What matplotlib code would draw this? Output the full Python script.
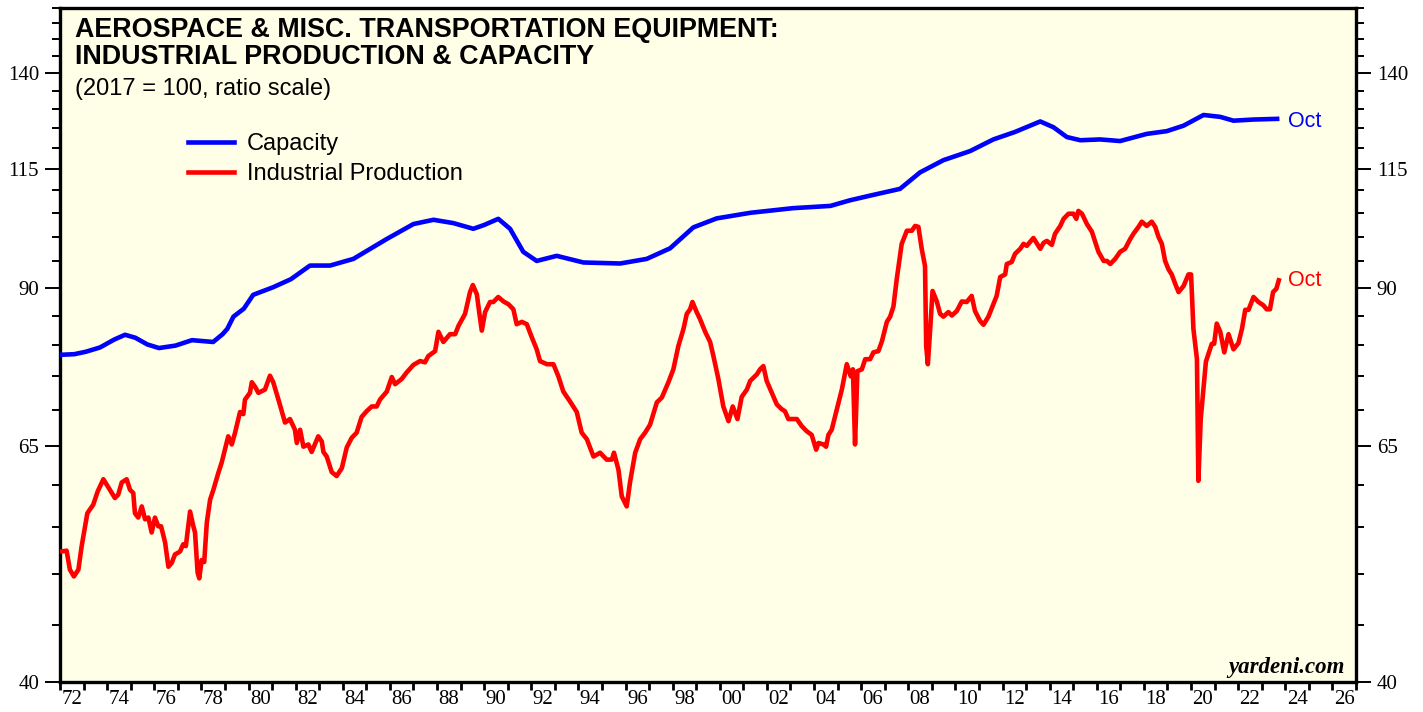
import matplotlib
matplotlib.use("Agg")
import matplotlib.pyplot as plt
from matplotlib.lines import Line2D
from matplotlib.ticker import FixedLocator, FixedFormatter, NullFormatter

# ---------------- data ----------------
cap_years = [1972.0, 1972.6, 1973.1, 1973.7, 1974.3, 1974.76, 1975.2, 1975.7, 1976.2, 1976.9,
             1977.6, 1978.5, 1978.9, 1979.1, 1979.36, 1979.8, 1980.2, 1981.05, 1981.8, 1982.61,
             1983.46, 1984.45, 1985.87, 1987.0, 1987.85, 1988.69, 1989.54, 1990.0, 1990.6, 1991.1,
             1991.66, 1992.23, 1993.08, 1994.21, 1995.77, 1996.9, 1997.89, 1998.88, 1999.87, 2001.3,
             2003.1, 2004.7, 2005.5, 2006.4, 2007.65, 2008.5, 2009.49, 2010.62, 2011.61, 2012.53,
             2013.6, 2014.16, 2014.73, 2015.3, 2016.14, 2016.99, 2018.12, 2018.97, 2019.68, 2020.53,
             2021.24, 2021.8, 2022.65, 2023.75]
cap_values = [78.4, 78.5, 78.9, 79.6, 80.9, 81.7, 81.2, 80.1, 79.5, 79.9,
              80.8, 80.5, 81.8, 82.7, 84.8, 86.2, 88.7, 90.1, 91.6, 94.2,
              94.2, 95.5, 99.5, 102.6, 103.5, 102.8, 101.6, 102.4, 103.7, 101.6,
              96.9, 95.1, 96.1, 94.8, 94.6, 95.5, 97.6, 101.9, 103.8, 105.0,
              106.0, 106.5, 107.7, 108.8, 110.3, 114.1, 117.0, 119.2, 122.1, 124.0,
              126.7, 125.2, 122.7, 121.9, 122.1, 121.7, 123.5, 124.2, 125.6, 128.4,
              127.9, 126.9, 127.2, 127.4]

ip_years = [1972.0, 1972.28, 1972.42, 1972.59, 1972.78, 1972.92, 1973.16, 1973.41, 1973.6, 1973.84,
            1974.05, 1974.33, 1974.47, 1974.62, 1974.83, 1974.97, 1975.11, 1975.18, 1975.32, 1975.47,
            1975.61, 1975.75, 1975.89, 1976.03, 1976.17, 1976.29, 1976.46, 1976.6, 1976.74, 1976.88,
            1977.09, 1977.23, 1977.34, 1977.52, 1977.66, 1977.73, 1977.84, 1977.91, 1978.01, 1978.12,
            1978.23, 1978.37, 1978.51, 1978.72, 1978.86, 1979.14, 1979.29, 1979.43, 1979.64, 1979.78,
            1979.85, 1980.06, 1980.14, 1980.28, 1980.42, 1980.7, 1980.91, 1981.05, 1981.27, 1981.55,
            1981.76, 1981.97, 1982.05, 1982.19, 1982.33, 1982.54, 1982.68, 1982.96, 1983.11, 1983.18,
            1983.32, 1983.53, 1983.74, 1983.96, 1984.17, 1984.38, 1984.59, 1984.8, 1985.01, 1985.23,
            1985.44, 1985.58, 1985.87, 1986.08, 1986.22, 1986.5, 1986.71, 1987.0, 1987.28, 1987.49,
            1987.63, 1987.92, 1988.06, 1988.27, 1988.55, 1988.77, 1988.91, 1989.19, 1989.4, 1989.52,
            1989.69, 1989.8, 1989.9, 1990.04, 1990.25, 1990.39, 1990.6, 1990.82, 1991.03, 1991.24,
            1991.38, 1991.6, 1991.81, 1992.02, 1992.23, 1992.37, 1992.66, 1992.94, 1993.15, 1993.36,
            1993.65, 1993.93, 1994.14, 1994.36, 1994.64, 1994.92, 1995.2, 1995.42, 1995.51, 1995.7,
            1995.84, 1996.05, 1996.19, 1996.41, 1996.62, 1996.83, 1997.04, 1997.33, 1997.54, 1997.82,
            1998.03, 1998.24, 1998.46, 1998.6, 1998.74, 1998.84, 1999.02, 1999.16, 1999.38, 1999.59,
            1999.73, 1999.94, 2000.15, 2000.37, 2000.55, 2000.75, 2000.93, 2001.15, 2001.29, 2001.57,
            2001.71, 2001.85, 2001.99, 2002.21, 2002.42, 2002.63, 2002.77, 2002.91, 2003.27, 2003.48,
            2003.69, 2003.9, 2004.09, 2004.19, 2004.4, 2004.51, 2004.61, 2004.75, 2004.97, 2005.18,
            2005.39, 2005.56, 2005.65, 2005.74, 2005.84, 2006.03, 2006.17, 2006.38, 2006.52, 2006.73,
            2006.88, 2007.09, 2007.23, 2007.37, 2007.51, 2007.72, 2007.94, 2008.15, 2008.29, 2008.43,
            2008.57, 2008.71, 2008.76, 2008.83, 2008.93, 2009.03, 2009.21, 2009.35, 2009.49, 2009.7,
            2009.85, 2010.06, 2010.27, 2010.48, 2010.69, 2010.83, 2011.04, 2011.19, 2011.4, 2011.61,
            2011.75, 2011.9, 2012.11, 2012.18, 2012.39, 2012.53, 2012.75, 2012.89, 2013.03, 2013.31,
            2013.6, 2013.74, 2013.88, 2014.09, 2014.23, 2014.45, 2014.59, 2014.8, 2015.01, 2015.13,
            2015.22, 2015.37, 2015.58, 2015.79, 2015.93, 2016.07, 2016.29, 2016.43, 2016.57, 2016.78,
            2016.99, 2017.2, 2017.42, 2017.56, 2017.77, 2017.91, 2018.12, 2018.33, 2018.48, 2018.62,
            2018.76, 2018.9, 2019.04, 2019.18, 2019.33, 2019.47, 2019.68, 2019.89, 2020.0, 2020.1,
            2020.25, 2020.31, 2020.41, 2020.63, 2020.88, 2020.98, 2021.09, 2021.24, 2021.41, 2021.59,
            2021.8, 2022.01, 2022.16, 2022.3, 2022.44, 2022.65, 2022.86, 2023.07, 2023.21, 2023.35,
            2023.48, 2023.62, 2023.75]
ip_values = [52.3, 52.4, 50.4, 49.7, 50.4, 52.9, 56.6, 57.6, 59.2, 60.7,
             59.7, 58.4, 58.8, 60.3, 60.7, 59.4, 59.0, 56.6, 56.1, 57.4,
             55.9, 56.1, 54.4, 56.1, 55.1, 55.1, 53.3, 50.7, 51.1, 52.0,
             52.3, 53.1, 52.9, 56.8, 55.1, 54.4, 50.1, 49.5, 51.4, 51.2,
             55.5, 58.2, 59.4, 61.5, 62.8, 66.3, 65.2, 66.8, 69.7, 69.4,
             71.5, 72.5, 74.1, 73.4, 72.5, 73.0, 75.1, 74.1, 71.5, 68.2,
             68.7, 67.2, 65.4, 67.2, 64.9, 65.2, 64.2, 66.3, 65.6, 64.2,
             63.6, 61.6, 61.1, 62.1, 64.8, 66.1, 66.8, 69.0, 69.8, 70.5,
             70.5, 71.5, 72.7, 74.9, 73.8, 74.6, 75.6, 76.8, 77.4, 77.2,
             78.2, 79.0, 82.2, 80.5, 81.8, 81.8, 83.2, 85.3, 89.2, 90.5,
             88.8, 85.3, 82.4, 85.6, 87.4, 87.4, 88.3, 87.5, 87.0, 86.1,
             83.5, 83.9, 83.5, 81.3, 79.3, 77.4, 76.9, 76.9, 75.0, 72.7,
             71.2, 69.7, 66.8, 65.9, 63.6, 64.1, 63.2, 63.2, 64.1, 61.9,
             58.6, 57.4, 60.3, 64.1, 65.9, 66.8, 67.9, 71.1, 71.8, 74.1,
             76.1, 79.8, 82.7, 85.3, 86.1, 87.4, 85.6, 84.4, 82.2, 80.5,
             78.2, 74.6, 70.5, 68.4, 70.5, 68.7, 71.9, 73.0, 74.3, 75.3,
             76.1, 76.6, 74.3, 72.5, 70.8, 70.1, 69.8, 68.7, 68.7, 67.7,
             67.0, 66.5, 64.5, 65.4, 65.2, 64.9, 66.5, 67.2, 70.1, 73.0,
             76.9, 75.0, 76.1, 65.2, 75.8, 76.1, 77.7, 77.7, 78.8, 79.0,
             80.6, 83.9, 84.8, 86.6, 91.6, 98.5, 101.2, 101.2, 102.2, 102.0,
             97.5, 94.1, 79.8, 76.9, 82.7, 89.4, 87.5, 85.3, 84.8, 85.6,
             85.0, 85.8, 87.5, 87.4, 88.5, 85.8, 84.1, 83.4, 84.8, 87.0,
             88.5, 92.0, 92.5, 94.5, 94.9, 96.5, 97.5, 98.5, 98.1, 99.7,
             97.5, 98.7, 99.1, 98.3, 100.6, 102.2, 103.7, 104.8, 104.8, 103.7,
             105.4, 104.8, 102.6, 101.0, 98.9, 96.9, 95.1, 95.1, 94.5, 95.5,
             96.9, 97.5, 99.5, 100.6, 102.0, 103.1, 102.2, 103.1, 102.0, 99.9,
             98.5, 95.1, 93.5, 92.5, 90.7, 89.2, 90.3, 92.5, 92.5, 82.7,
             77.7, 60.5, 68.7, 77.3, 80.2, 80.2, 83.6, 82.2, 78.8, 81.8,
             79.3, 80.3, 82.7, 86.0, 86.0, 88.3, 87.4, 86.8, 86.1, 86.1,
             89.2, 89.8, 91.8]

y_major = [40, 65, 90, 115, 140]
y_minor = list(range(45, 161, 5))
x_years = list(range(1972, 2028))
x_label_years = list(range(1972, 2027, 2))
x_labels = ["%02d" % (y % 100) for y in x_label_years]

title1 = "AEROSPACE & MISC. TRANSPORTATION EQUIPMENT:"
title2 = "INDUSTRIAL PRODUCTION & CAPACITY"
subtitle = "(2017 = 100, ratio scale)"
series_names = ["Capacity", "Industrial Production"]
last_label = "Oct"

# ---------------- styling ----------------
BLUE = "#0000FF"
RED = "#FF0000"
BG = "#FFFEE6"
SANS = ["Liberation Sans", "DejaVu Sans"]
SERIF = ["Liberation Serif", "DejaVu Serif"]
LW = 3.3

W, H = 1423, 712
fig = plt.figure(figsize=(W / 100, H / 100), dpi=100)
fig.patch.set_facecolor("white")
L, R, T, B = 60, 1356, 8, 682
ax = fig.add_axes([L / W, (H - B) / H, (R - L) / W, (B - T) / H])
ax.set_facecolor(BG)

ax.plot(cap_years, cap_values, color=BLUE, lw=LW, solid_joinstyle="round",
        solid_capstyle="butt", zorder=3)
ax.plot(ip_years, ip_values, color=RED, lw=LW, solid_joinstyle="round",
        solid_capstyle="butt", zorder=3)

ax.set_yscale("log")
ax.set_ylim(40, 160)
ax.set_xlim(1972, 2027)

ax.yaxis.set_major_locator(FixedLocator(y_major))
ax.yaxis.set_major_formatter(FixedFormatter([str(v) for v in y_major]))
ax.yaxis.set_minor_locator(FixedLocator(y_minor))
ax.yaxis.set_minor_formatter(NullFormatter())
ax.tick_params(axis="y", which="major", direction="out", length=11, width=1.4,
               left=True, right=True, labelleft=True, labelright=True, pad=4,
               labelsize=15)
ax.tick_params(axis="y", which="minor", direction="out", length=6, width=1.4,
               left=True, right=True)

ax.xaxis.set_major_locator(FixedLocator(x_years))
ax.xaxis.set_major_formatter(NullFormatter())
ax.xaxis.set_minor_locator(FixedLocator([y + 0.5 for y in x_label_years]))
ax.xaxis.set_minor_formatter(FixedFormatter(x_labels))
ax.tick_params(axis="x", which="major", direction="out", length=6, width=2.0)
ax.tick_params(axis="x", which="minor", length=0, pad=6, labelsize=15)

for t in ax.get_xticklabels(minor=True) + ax.get_yticklabels():
    t.set_fontfamily(SERIF)
for t in ax.yaxis.get_ticklabels():
    t.set_fontfamily(SERIF)

for sp in ax.spines.values():
    sp.set_linewidth(2.4)
    sp.set_color("black")

def yfrac(py):
    return 1 - (py - T) / (B - T)

xt = (75 - L) / (R - L)
ax.text(xt, yfrac(37), title1, transform=ax.transAxes, family=SANS, weight="bold",
        fontsize=19.4, va="baseline", ha="left")
ax.text(xt, yfrac(64), title2, transform=ax.transAxes, family=SANS, weight="bold",
        fontsize=19.4, va="baseline", ha="left")
ax.text(xt, yfrac(95), subtitle, transform=ax.transAxes, family=SANS,
        fontsize=17, va="baseline", ha="left")

handles = [Line2D([], [], color=BLUE, lw=LW), Line2D([], [], color=RED, lw=LW)]
ax.legend(handles, series_names, loc="upper left",
          bbox_to_anchor=((188 - L) / (R - L), yfrac(133.5)), frameon=False,
          prop={"family": SANS, "size": 17}, handlelength=1.95, handletextpad=0.55,
          labelspacing=0.32, borderpad=0, borderaxespad=0)

ax.text(cap_years[-1] + 0.37, cap_values[-1], last_label, color=BLUE, family=SANS,
        fontsize=15.5, va="center_baseline", ha="left")
ax.text(ip_years[-1] + 0.37, ip_values[-1], last_label, color=RED, family=SANS,
        fontsize=15.5, va="center_baseline", ha="left")

ax.text(1 - 11 / (R - L), (B - 673) / (B - T), "yardeni.com", transform=ax.transAxes,
        family=SERIF, weight="bold", style="italic", fontsize=16.5, ha="right",
        va="baseline")

fig.savefig("out.png", dpi=100, facecolor="white")
